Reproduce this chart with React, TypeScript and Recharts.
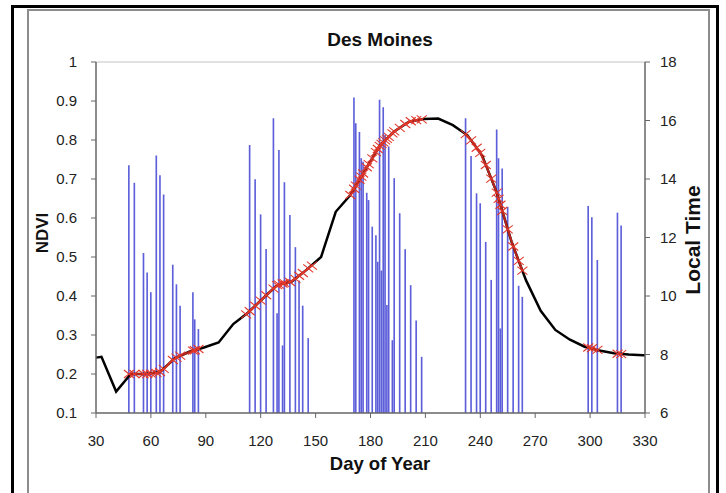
import React from 'react';
import { ComposedChart, Bar, Line, XAxis, YAxis, ReferenceLine } from 'recharts';

// axis ticks
const dayTicks = [30, 60, 90, 120, 150, 180, 210, 240, 270, 300, 330];
const ndviTicks = [0.1, 0.2, 0.3, 0.4, 0.5, 0.6, 0.7, 0.8, 0.9, 1];
const timeTicks = [6, 8, 10, 12, 14, 16, 18];

// 8-day NDVI composite curve (black line)
const curveDays = [30, 33, 41, 49, 57, 65, 73, 81, 89, 97, 105, 113, 121, 129, 137, 145, 153, 161, 169, 177,
  185, 193, 201, 209, 217, 225, 233, 241, 249, 257, 265, 273, 281, 289, 297, 305, 313, 321, 329, 330];
const curveNdvi = [0.242, 0.244, 0.155, 0.2, 0.2, 0.205, 0.24, 0.257, 0.268, 0.281, 0.328, 0.357, 0.393, 0.428, 0.437,
  0.467, 0.5, 0.616, 0.659, 0.722, 0.785, 0.822, 0.847, 0.854, 0.855, 0.838, 0.812, 0.76, 0.665, 0.54, 0.44, 0.362,
  0.313, 0.288, 0.27, 0.26, 0.253, 0.25, 0.248, 0.248];

// observation days and their local time (blue lines, right axis)
const obsDays = [48, 51, 56, 58, 60, 63, 65, 67, 72, 74, 76, 83, 84, 86,
  114, 117, 120, 123, 127, 129, 130, 132, 133, 136, 139, 141, 143, 146,
  171, 172, 174, 175, 176, 178, 179, 181, 183, 184, 185, 186, 187, 188, 189, 190, 192, 193, 196, 199, 202, 205, 208,
  232, 235, 238, 240, 243, 246, 249, 250, 251, 252, 255, 258, 261, 263,
  299, 301, 304, 315, 317];
const obsTimes = [14.47, 13.87, 11.47, 10.8, 10.13, 14.8, 14.13, 13.47, 11.07, 10.4, 9.67, 10.13, 9.2, 8.87,
  15.16, 13.99, 12.79, 11.61, 16.08, 9.41, 14.99, 8.31, 13.89, 12.77, 11.67, 10.53, 9.67, 8.56,
  16.79, 15.91, 15.61, 14.71, 14.59, 13.53, 13.28, 12.37, 12.08, 11.17, 16.71, 10.87, 16.45, 15.51, 9.69, 15.11, 8.49,
  14.03, 12.83, 11.6, 10.37, 9.16, 7.92,
  16.08, 14.79, 13.51, 13.17, 11.85, 10.55, 15.69, 14.71, 8.89, 14.36, 13.05, 11.8, 10.35, 9.97,
  13.08, 12.69, 11.23, 12.85, 12.41];

// daily NDVI on observation periods (red x markers)
const markDays = [48, 51, 56, 58, 60, 63, 65, 67, 72, 74, 76, 83, 84, 86,
  112, 114, 117, 120, 123, 127, 129, 130, 132, 133, 136, 139, 141, 143, 146, 148,
  169, 171, 172, 174, 175, 176, 178, 179, 181, 183, 184, 185, 186, 187, 188, 189, 190, 192, 193, 196, 199, 202, 205, 208,
  232, 235, 238, 240, 243, 246, 249, 250, 251, 252, 255, 258, 261, 263,
  299, 301, 304, 315, 317];
const markNdvi = [0.2, 0.2, 0.2, 0.2, 0.201, 0.203, 0.205, 0.213, 0.236, 0.242, 0.247, 0.26, 0.261, 0.264,
  0.353, 0.361, 0.375, 0.388, 0.402, 0.419, 0.428, 0.429, 0.432, 0.433, 0.436, 0.444, 0.452, 0.459, 0.471, 0.478,
  0.659, 0.675, 0.683, 0.698, 0.706, 0.714, 0.73, 0.738, 0.753, 0.769, 0.777, 0.785, 0.79, 0.794, 0.799, 0.803, 0.808,
  0.817, 0.822, 0.831, 0.841, 0.848, 0.851, 0.853,
  0.815, 0.799, 0.78, 0.767, 0.736, 0.701, 0.665, 0.649, 0.634, 0.618, 0.571, 0.527, 0.49, 0.465,
  0.268, 0.266, 0.262, 0.252, 0.251];

const curveData = curveDays.map((d, i) => ({ day: d, ndvi: curveNdvi[i] }));
const obsData = obsDays.map((d, i) => ({ day: d, time: obsTimes[i] }));

// break the red series between observation periods
const markData: { day: number; ndvi: number | null }[] = [];
markDays.forEach((d, i) => {
  if (i > 0 && d - markDays[i - 1] > 10) {
    markData.push({ day: (d + markDays[i - 1]) / 2, ndvi: null });
  }
  markData.push({ day: d, ndvi: markNdvi[i] });
});

const FONT = '"Liberation Sans", Arial, sans-serif';

const renderX = (props: any) => {
  const { cx, cy, index, value } = props;
  if (value == null || cx == null || cy == null) return <g key={`x-${index}`} />;
  return (
    <path
      key={`x-${index}`}
      d={`M${cx - 5},${cy - 4}L${cx + 5},${cy + 4}M${cx - 5},${cy + 4}L${cx + 5},${cy - 4}`}
      stroke="#e2382c"
      strokeWidth={1.1}
      fill="none"
    />
  );
};

export default function App() {
  const tickStyle = { fontSize: 15, fill: '#222', fontFamily: FONT };
  const axisStyle = { stroke: '#666', strokeWidth: 1.5 };

  return (
    <div style={{ position: 'absolute', left: 0, top: 0, width: 726, height: 493, background: '#fff', overflow: 'hidden', fontFamily: FONT }}>
      <div style={{ position: 'absolute', left: 11, top: 5, width: 702, height: 540, border: '3px solid #000' }} />
      <div style={{ position: 'absolute', left: 27, top: 9, width: 679, height: 540, border: '2px solid #8c8c8c' }} />

      <div style={{ position: 'absolute', left: 280, top: 30, width: 200, textAlign: 'center', fontSize: 19, lineHeight: '19px', fontWeight: 'bold', color: '#111' }}>
        Des Moines
      </div>
      <div style={{ position: 'absolute', left: 280, top: 455, width: 200, textAlign: 'center', fontSize: 18.5, lineHeight: '18.5px', fontWeight: 'bold', color: '#111' }}>
        Day of Year
      </div>
      <div style={{ position: 'absolute', left: 42, top: 233, transform: 'translate(-50%, -50%) rotate(-90deg)', fontSize: 17, lineHeight: '17px', fontWeight: 'bold', color: '#111', whiteSpace: 'nowrap' }}>
        NDVI
      </div>
      <div style={{ position: 'absolute', left: 692, top: 240, transform: 'translate(-50%, -50%) rotate(-90deg)', fontSize: 21, lineHeight: '21px', fontWeight: 'bold', color: '#111', whiteSpace: 'nowrap' }}>
        Local Time
      </div>

      <div style={{ position: 'absolute', left: 0, top: 0 }}>
        <ComposedChart width={726} height={493} data={obsData} margin={{ top: 62, right: 31, bottom: 50, left: 36 }}>
          <XAxis
            type="number"
            dataKey="day"
            domain={[30, 330]}
            ticks={dayTicks}
            interval={0}
            height={30}
            tick={tickStyle}
            tickSize={5}
            tickMargin={17}
            axisLine={axisStyle}
            tickLine={{ stroke: '#666' }}
          />
          <YAxis
            yAxisId="left"
            type="number"
            domain={[0.1, 1]}
            ticks={ndviTicks}
            interval={0}
            width={60}
            tick={tickStyle}
            tickSize={5}
            tickMargin={14}
            axisLine={axisStyle}
            tickLine={{ stroke: '#666' }}
          />
          <YAxis
            yAxisId="right"
            orientation="right"
            type="number"
            domain={[6, 18]}
            ticks={timeTicks}
            interval={0}
            width={50}
            tick={tickStyle}
            tickSize={5}
            tickMargin={10}
            axisLine={axisStyle}
            tickLine={{ stroke: '#666' }}
          />
          <ReferenceLine yAxisId="left" y={1} stroke="#c4c4c4" strokeWidth={1} />

          <Bar yAxisId="right" dataKey="time" barSize={2} fill="#4b4ed6" fillOpacity={0.9} isAnimationActive={false} />

          <Line
            yAxisId="left"
            data={curveData}
            dataKey="ndvi"
            type="linear"
            stroke="#000"
            strokeWidth={2.5}
            dot={false}
            isAnimationActive={false}
          />
          <Line
            yAxisId="left"
            data={markData}
            dataKey="ndvi"
            type="linear"
            stroke="#d62a1e"
            strokeOpacity={0.85}
            strokeWidth={2.2}
            dot={renderX}
            activeDot={false}
            isAnimationActive={false}
          />
        </ComposedChart>
      </div>
    </div>
  );
}
